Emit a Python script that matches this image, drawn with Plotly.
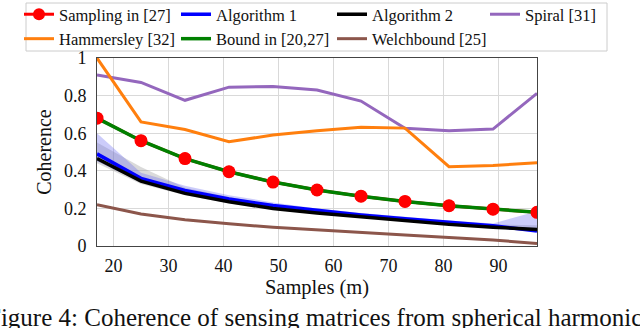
import plotly.graph_objects as go

samples = [17, 25, 33, 41, 49, 57, 65, 73, 81, 89, 97]
sampling27 = [0.68, 0.56, 0.465, 0.395, 0.34, 0.298, 0.265, 0.237, 0.214, 0.196, 0.179]
bound2027 = [0.68, 0.56, 0.465, 0.395, 0.34, 0.298, 0.265, 0.237, 0.214, 0.196, 0.179]
algorithm1 = [0.49, 0.36, 0.295, 0.25, 0.215, 0.19, 0.165, 0.145, 0.125, 0.108, 0.08]
algorithm2 = [0.465, 0.345, 0.28, 0.235, 0.2, 0.175, 0.155, 0.135, 0.115, 0.1, 0.088]
spiral31 = [0.91, 0.87, 0.775, 0.845, 0.848, 0.83, 0.771, 0.626, 0.613, 0.622, 0.812]
hammersley32 = [1.0, 0.66, 0.62, 0.555, 0.59, 0.613, 0.631, 0.627, 0.422, 0.428, 0.443]
welch25 = [0.22, 0.17, 0.14, 0.118, 0.1, 0.085, 0.07, 0.058, 0.045, 0.032, 0.013]
alg1_band_hi = [0.6, 0.39, 0.32, 0.27, 0.232, 0.2, 0.175, 0.155, 0.135, 0.12, 0.185]
alg1_band_lo = [0.45, 0.34, 0.28, 0.235, 0.2, 0.175, 0.155, 0.135, 0.115, 0.1, 0.085]
alg2_band_hi = [0.55, 0.42, 0.31, 0.26, 0.22, 0.19, 0.17, 0.15, 0.13, 0.115, 0.11]
alg2_band_lo = [0.44, 0.33, 0.27, 0.228, 0.195, 0.17, 0.15, 0.13, 0.112, 0.097, 0.084]

FONT = "Liberation Serif"
fig = go.Figure()

# shaded bands
fig.add_trace(go.Scatter(x=samples, y=alg2_band_lo, mode="lines", line=dict(width=0),
                         showlegend=False, hoverinfo="skip"))
fig.add_trace(go.Scatter(x=samples, y=alg2_band_hi, mode="lines", line=dict(width=0),
                         fill="tonexty", fillcolor="rgba(150,150,150,0.35)",
                         showlegend=False, hoverinfo="skip"))
fig.add_trace(go.Scatter(x=samples, y=alg1_band_lo, mode="lines", line=dict(width=0),
                         showlegend=False, hoverinfo="skip"))
fig.add_trace(go.Scatter(x=samples, y=alg1_band_hi, mode="lines", line=dict(width=0),
                         fill="tonexty", fillcolor="rgba(110,110,240,0.35)",
                         showlegend=False, hoverinfo="skip"))

fig.add_trace(go.Scatter(x=samples, y=spiral31, mode="lines", name="Spiral [31]",
                         line=dict(color="#9467bd", width=3), legend="legend4", legendrank=1))
fig.add_trace(go.Scatter(x=samples, y=hammersley32, mode="lines", name="Hammersley [32]",
                         line=dict(color="#ff7f0e", width=3), legend="legend", legendrank=2))
fig.add_trace(go.Scatter(x=samples, y=welch25, mode="lines", name="Welchbound [25]",
                         line=dict(color="#8c564b", width=3), legend="legend3", legendrank=2))
fig.add_trace(go.Scatter(x=samples, y=algorithm1, mode="lines", name="Algorithm 1",
                         line=dict(color="#0000ff", width=3.5), legend="legend2", legendrank=1))
fig.add_trace(go.Scatter(x=samples, y=algorithm2, mode="lines", name="Algorithm 2",
                         line=dict(color="#000000", width=3.5), legend="legend3", legendrank=1))
fig.add_trace(go.Scatter(x=samples, y=sampling27, mode="lines+markers", name="Sampling in [27]",
                         line=dict(color="#ff0000", width=3),
                         marker=dict(color="#ff0000", size=12, line=dict(width=0)),
                         legend="legend", legendrank=1))
fig.add_trace(go.Scatter(x=samples, y=bound2027, mode="lines", name="Bound in [20,27]",
                         line=dict(color="#008000", width=3.5), legend="legend2", legendrank=2))
fig.add_trace(go.Scatter(x=samples, y=sampling27, mode="markers", showlegend=False,
                         marker=dict(color="#ff0000", size=13, line=dict(width=0)),
                         hoverinfo="skip"))

PLOT_L, PLOT_W, PLOT_B, PLOT_H = 97, 440, 246, 188


def px_x(p):
    return (p - PLOT_L) / PLOT_W


def px_y(p):
    return (PLOT_B - p) / PLOT_H


def col_legend(left_px):
    return dict(orientation="v", x=px_x(left_px), y=px_y(-3), xanchor="left", yanchor="top",
                bgcolor="rgba(0,0,0,0)", borderwidth=0,
                font=dict(family=FONT, size=16.5, color="#111"), traceorder="normal",
                itemwidth=30, tracegroupgap=0)


fig.update_layout(
    width=640, height=328,
    margin=dict(l=97, r=103, t=58, b=82, autoexpand=False),
    paper_bgcolor="white", plot_bgcolor="white",
    font=dict(family=FONT, size=18, color="#111"),
    legend=col_legend(19),
    legend2=col_legend(176),
    legend3=col_legend(332),
    legend4=col_legend(485),
    shapes=[dict(type="rect", xref="paper", yref="paper",
                 x0=px_x(26), x1=px_x(607), y0=px_y(51), y1=px_y(3),
                 line=dict(color="#cccccc", width=1), fillcolor="white", layer="below")],
    xaxis=dict(range=[17, 97], tickvals=[20, 30, 40, 50, 60, 70, 80, 90],
               showgrid=True, gridcolor="#d9d9d9", gridwidth=1,
               showline=True, linecolor="#444", linewidth=1, mirror=True,
               zeroline=False, ticks="", tickfont=dict(size=18), ticklabelstandoff=3,
               title=dict(text="Samples (m)", standoff=5, font=dict(size=20.5))),
    yaxis=dict(range=[0, 1], tickvals=[0, 0.2, 0.4, 0.6, 0.8, 1],
               ticktext=["0", "0.2", "0.4", "0.6", "0.8", "1"],
               showgrid=True, gridcolor="#d9d9d9", gridwidth=1,
               showline=True, linecolor="#444", linewidth=1, mirror=True,
               zeroline=False, ticks="", tickfont=dict(size=18), ticklabelstandoff=6,
               title=dict(text="Coherence", standoff=6, font=dict(size=20))),
    annotations=[dict(text="Figure 4: Coherence of sensing matrices from spherical harmonics",
                      xref="paper", yref="paper", x=-0.2545, y=-0.378,
                      xanchor="left", yanchor="middle", showarrow=False,
                      font=dict(family=FONT, size=25, color="#111"))],
)

fig.write_html("out.html", config={"displayModeBar": False},
               post_script="document.body.style.margin='0';")
